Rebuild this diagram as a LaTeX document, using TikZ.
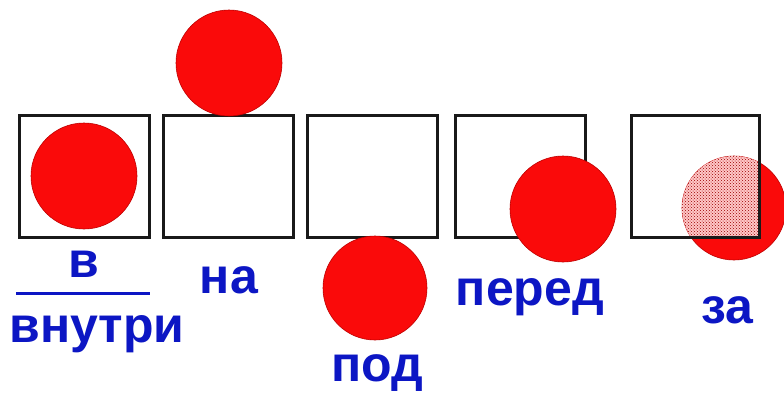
\documentclass[tikz,border=0pt]{standalone}
\usepackage{fontspec}
\setmainfont{Liberation Sans}
\usetikzlibrary{patterns}
\definecolor{wordblue}{RGB}{12,22,196}
\definecolor{ballred}{RGB}{250,10,10}
\begin{document}
\begin{tikzpicture}[x=1pt,y=-1pt,
  boxsq/.style={draw=black!90,line width=3pt,minimum width=130pt,minimum height=122pt,inner sep=0pt,fill=white},
  ball/.style={circle,fill=ballred,draw=red!75!black,line width=0.6pt,minimum size=106pt,inner sep=0pt},
  word/.style={text=wordblue,font=\fontsize{50}{50}\selectfont\bfseries,anchor=base,inner sep=0pt}]
\useasboundingbox[fill=white] (0,0) rectangle (784,392);
% boxes
\node[boxsq] (b1) at (84,176) {};
\node[boxsq] (b2) at (228,176) {};
\node[boxsq] (b3) at (372.5,176) {};
\node[boxsq] (b4) at (520,176) {};
% circle behind box 5
\node[ball,minimum size=104pt] (c5) at (734,208) {};
\begin{scope}
  \clip (631.5,116.5) rectangle (758.5,235.5);
  \fill[red!22] (734,208) circle (52);
  \fill[pattern=crosshatch dots,pattern color=red!60!black] (734,208) circle (52);
\end{scope}
\node[boxsq,fill=none,minimum width=128pt] (b5) at (695,176) {};
% circles
\node[ball] (c1) at (84,176) {};
\node[ball] (c2) at (229,63) {};
\node[ball,minimum size=104pt] (c3) at (375,288) {};
\node[ball] (c4) at (563,209) {};
% words
\node[word] (w1) at (84,277) {в};
\draw[wordblue,line width=3pt] (16,293) -- (150,293);
\node[word] (w1b) at (97,342) {внутри};
\node[word] (w2) at (229,293) {на};
\node[word] (w3) at (377,381) {под};
\node[word] (w4) at (530,305) {перед};
\node[word] (w5) at (727,323) {за};
\end{tikzpicture}
\end{document}
